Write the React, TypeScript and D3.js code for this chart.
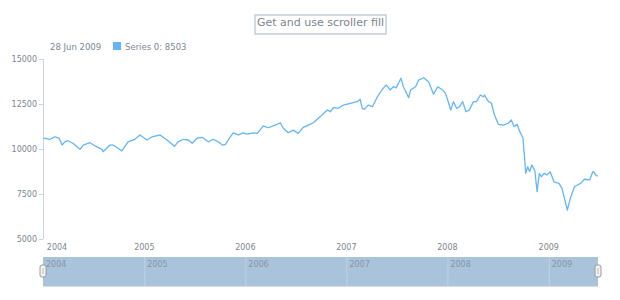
import * as d3 from 'd3';

// weekly-ish closes
const dates = [
  '2004-01-02', '2004-01-27', '2004-02-13', '2004-02-28', '2004-03-10', '2004-03-20', '2004-03-31', '2004-04-18',
  '2004-05-14', '2004-05-25', '2004-06-19', '2004-07-07', '2004-08-01', '2004-08-05', '2004-08-30', '2004-09-10',
  '2004-09-28', '2004-10-12', '2004-11-03', '2004-11-28', '2004-12-16', '2005-01-11', '2005-01-29', '2005-02-27',
  '2005-03-24', '2005-04-20', '2005-05-03', '2005-05-22', '2005-06-09', '2005-06-23', '2005-07-11', '2005-07-29',
  '2005-08-20', '2005-09-07', '2005-09-25', '2005-10-10', '2005-10-21', '2005-11-08', '2005-11-18', '2005-12-07',
  '2005-12-25', '2006-01-08', '2006-01-30', '2006-02-13', '2006-03-07', '2006-03-25', '2006-04-19', '2006-05-07',
  '2006-05-18', '2006-06-05', '2006-06-23', '2006-07-11', '2006-07-29', '2006-08-16', '2006-09-04', '2006-09-29',
  '2006-10-24', '2006-11-04', '2006-11-15', '2006-12-03', '2006-12-21', '2007-01-15', '2007-02-09', '2007-02-20',
  '2007-02-27', '2007-03-07', '2007-03-21', '2007-04-05', '2007-04-23', '2007-05-11', '2007-05-25', '2007-06-08',
  '2007-06-20', '2007-06-30', '2007-07-17', '2007-07-26', '2007-08-14', '2007-08-21', '2007-09-08', '2007-09-19',
  '2007-10-07', '2007-10-25', '2007-11-12', '2007-11-27', '2007-12-15', '2007-12-25', '2008-01-02', '2008-01-13',
  '2008-01-23', '2008-02-03', '2008-02-14', '2008-02-25', '2008-03-08', '2008-03-20', '2008-04-04', '2008-04-15',
  '2008-04-29', '2008-05-10', '2008-05-14', '2008-05-28', '2008-06-08', '2008-06-19', '2008-07-03', '2008-07-21',
  '2008-08-08', '2008-08-19', '2008-08-29', '2008-09-09', '2008-09-16', '2008-09-30', '2008-10-10', '2008-10-17',
  '2008-10-24', '2008-11-01', '2008-11-12', '2008-11-20', '2008-11-28', '2008-12-05', '2008-12-16', '2008-12-26',
  '2009-01-06', '2009-01-20', '2009-02-07', '2009-02-18', '2009-03-09', '2009-03-20', '2009-04-04', '2009-04-15',
  '2009-04-26', '2009-05-10', '2009-05-29', '2009-06-09', '2009-06-14', '2009-06-21', '2009-06-28',
];

const values = [
  10600, 10540, 10680, 10600, 10220, 10400, 10460, 10320,
  9980, 10220, 10350, 10170, 9980, 9850, 10220, 10220,
  10040, 9890, 10400, 10540, 10780, 10500, 10680, 10780,
  10500, 10150, 10400, 10540, 10500, 10320, 10600, 10650,
  10400, 10540, 10400, 10220, 10260, 10680, 10900, 10780,
  10900, 10830, 10900, 10870, 11280, 11180, 11330, 11460,
  11150, 10900, 11050, 10870, 11200, 11330, 11460, 11800,
  12170, 12070, 12300, 12260, 12440, 12540, 12630, 12760,
  12260, 12200, 12440, 12350, 12900, 13320, 13560, 13280,
  13460, 13400, 13930, 13460, 12850, 13280, 13460, 13830,
  13960, 13740, 13040, 13460, 13280, 13090, 12720, 12170,
  12630, 12260, 12350, 12630, 12070, 12170, 12630, 12630,
  13000, 12900, 13000, 12630, 12540, 11890, 11370, 11330,
  11430, 11610, 11240, 11370, 11050, 10600, 8650, 9020,
  8740, 9110, 8780, 7630, 8650, 8460, 8650, 8560,
  8740, 8180, 8090, 7810, 6610, 7260, 7910, 8000,
  8090, 8320, 8280, 8740, 8700, 8520, 8503,
];

const yTicks = [5000, 7500, 10000, 12500, 15000];
const yearTicks = ['2004', '2005', '2006', '2007', '2008', '2009'];

const title = 'Get and use scroller fill';
const seriesName = 'Series 0';

const W = 620;
const H = 300;
const margin = { top: 59, right: 22, bottom: 61, left: 43 };
const FONT = '"DejaVu Sans", Verdana, sans-serif';
const TEXT = '#7c868e';

const parse = d3.timeParse('%Y-%m-%d');

const App = () => {
  const data = dates.map((d, i) => ({ date: parse(d)!, value: values[i] }));
  const last = data[data.length - 1];

  const x = d3.scaleTime()
    .domain([parse('2004-01-01')!, last.date])
    .range([margin.left, W - margin.right]);

  const y = d3.scaleLinear()
    .domain([5000, 15000])
    .range([H - margin.bottom, margin.top]);

  const line = d3.line<{ date: Date; value: number }>()
    .x(d => x(d.date))
    .y(d => y(d.value));

  const years = yearTicks.map(t => ({ label: t, x: x(parse(`${t}-01-01`)!) }));

  const scrollTop = 257;
  const scrollH = 29;
  const x0 = margin.left;
  const x1 = W - margin.right;

  return (
    <svg width={W} height={H} style={{ position: 'absolute', left: 0, top: 0, fontFamily: FONT }}>
      <rect width={W} height={H} fill="#fff" />

      {/* title with its frame */}
      <rect x={255} y={15} width={131} height={19} fill="none" stroke="#c9d1d8" strokeWidth={1.6} />
      <text x={320.5} y={26} textAnchor="middle" fontSize={11} fill={TEXT}>{title}</text>

      {/* legend */}
      <text x={50} y={49.5} fontSize={8.5} fill={TEXT}>{d3.timeFormat('%d %b %Y')(last.date)}</text>
      <rect x={113} y={42} width={8} height={8} fill="#64b5f6" />
      <text x={125} y={49.5} fontSize={8.5} fill={TEXT}>{`${seriesName}: ${last.value}`}</text>

      {/* y axis */}
      <line x1={x0 + 0.5} x2={x0 + 0.5} y1={y(15000)} y2={y(5000)} stroke="#cfd4d8" />
      {yTicks.map(t => (
        <g key={t}>
          <line x1={x0 - 4} x2={x0} y1={y(t) + 0.5} y2={y(t) + 0.5} stroke="#cfd4d8" />
          <text x={x0 - 6} y={y(t) + 3} textAnchor="end" fontSize={8} fill={TEXT}>{t}</text>
        </g>
      ))}

      {/* x axis labels */}
      {years.map(t => {
        const lx = Math.max(t.x, x0 + 14);
        return (
          <text key={t.label} x={lx} y={250} textAnchor="middle" fontSize={8} fill={TEXT}>{t.label}</text>
        );
      })}

      <path d={line(data) ?? ''} fill="none" stroke="#64b5f6" strokeWidth={1.3} strokeLinejoin="round" />

      {/* scroller */}
      <rect x={x0} y={scrollTop} width={x1 - x0} height={scrollH} fill="#a8c3da" />
      <line x1={x0} x2={x1} y1={scrollTop + scrollH + 0.5} y2={scrollTop + scrollH + 0.5} stroke="#d8dde2" />
      {years.map((t, i) => (
        <g key={t.label}>
          {i > 0 && (
            <line x1={t.x + 0.5} x2={t.x + 0.5} y1={scrollTop} y2={scrollTop + scrollH} stroke="#c4d3e1" />
          )}
          <text x={Math.max(t.x, x0) + 3} y={scrollTop + 10} fontSize={8} fill="#8796a6">{t.label}</text>
        </g>
      ))}
      {[x0, x1].map(hx => (
        <g key={hx}>
          <rect x={hx - 3} y={scrollTop + 8} width={6} height={12} rx={2} fill="#f2f2f2" stroke="#9a9a9a" strokeWidth={1} />
          <line x1={hx} x2={hx} y1={scrollTop + 11} y2={scrollTop + 17} stroke="#bbb" />
        </g>
      ))}
    </svg>
  );
};

export default App;
